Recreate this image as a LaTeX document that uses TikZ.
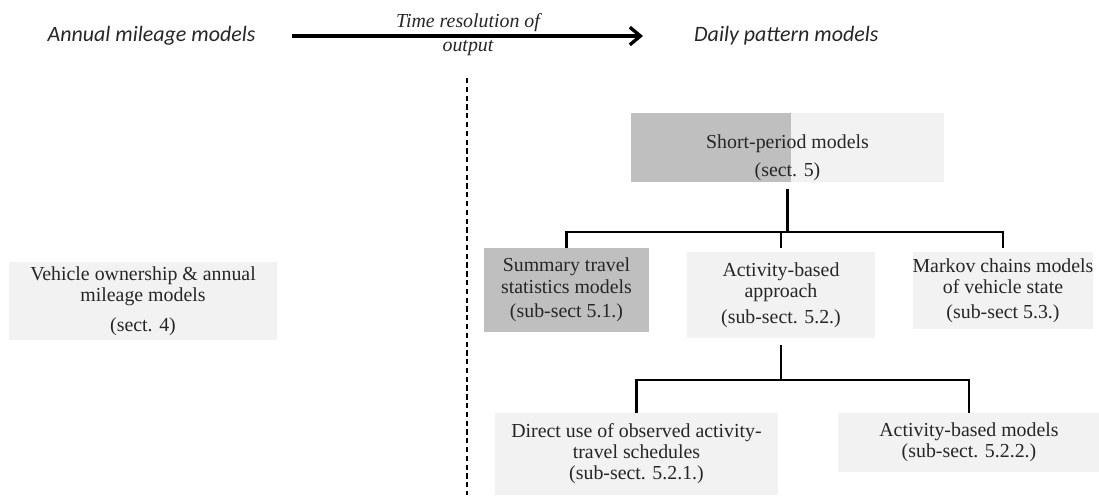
\documentclass[tikz,border=0pt]{standalone}
\usepackage{fontspec}
\setmainfont{Liberation Serif}
\newfontfamily\headfont{Carlito}
\usetikzlibrary{arrows.meta, positioning}
\definecolor{boxlight}{RGB}{242, 242, 242}
\definecolor{boxdark}{RGB}{191, 191, 191}
\definecolor{inkgray}{RGB}{38, 38, 38}

\begin{document}
\begin{tikzpicture}[x=0.02cm, y=-0.02cm,
  box/.style={fill=boxlight, inner sep=0pt, align=center, text=inkgray, font=\fontsize{11.3}{12}\selectfont},
  link/.style={line width=1.5pt, black},
  head/.style={text=inkgray, font=\headfont\itshape\fontsize{12.5}{14}\selectfont}]
  \useasboundingbox (0,0) rectangle (1099,495);

  % Heading and time axis
  \node[head] (ann) at (151.5,36) {Annual mileage models};
  \node[head, anchor=west] (daily) at (688,36) {Daily pattern models};
  \coordinate (axis start) at (292,36);
  \coordinate (axis end) at (643,36);
  \draw[line width=1.9pt, -{Straight Barb[length=6pt, width=10pt]}] (axis start) -- (axis end);
  \node[align=center, text=inkgray, font=\itshape\fontsize{11.3}{13.6}\selectfont] (res) at (468,35) {Time resolution of\\output};

  % Divider
  \coordinate (div top) at (467,78);
  \coordinate (div bottom) at (467,495);
  \draw[line width=1.3pt, dash pattern=on 3pt off 2pt] (div top) -- (div bottom);

  % Annual models
  \node[box, minimum width=5.36cm, minimum height=1.56cm] (veh) at (143,301) {
    Vehicle ownership \& annual\\mileage models\\[5pt](sect. 4)
  };

  % Short-period models
  \node[box, minimum width=6.26cm, minimum height=1.38cm,
    path picture={\fill[boxdark] (path picture bounding box.north west) rectangle ([xshift=0.07cm]path picture bounding box.south);}] (sp) at (787.5,147.5) {
    \rule{0pt}{19pt}Short-period models\\[4pt](sect. 5)
  };

  \node[box, fill=boxdark, minimum width=3.3cm, minimum height=1.68cm] (summ) at (566.5,290) {
    Summary travel\\statistics models\\[2pt](sub-sect 5.1.)
  };
  \node[box, minimum width=3.76cm, minimum height=1.72cm] (act) at (781,295) {
    Activity-based\\approach\\[3pt](sub-sect. 5.2.)
  };
  \node[box, minimum width=3.6cm, minimum height=1.54cm] (mark) at (1003,290.5) {
    Markov chains models\\of vehicle state\\[2pt](sub-sect 5.3.)
  };

  \node[box, minimum width=5.66cm, minimum height=1.64cm] (dir) at (636.5,454) {
    Direct use of observed activity-\\travel schedules\\(sub-sect. 5.2.1.)
  };
  \node[box, minimum width=5.24cm, minimum height=1.18cm] (abm) at (969,442.5) {
    Activity-based models\\(sub-sect. 5.2.2.)
  };

  % Tree
  \coordinate (top split) at (787.5,232);
  \coordinate (low split) at (781,380);
  \draw[link] (sp.south) ++(0,7) -- (top split);
  \draw[link] (summ.north) -- (summ.north |- top split) -- (mark.north |- top split) -- ([yshift=0.08cm]mark.north);
  \draw[link] ([yshift=0.08cm]act.north) -- (act.north |- top split);
  \draw[link] (act.south) ++(0,7) -- (low split);
  \draw[link] (dir.north) -- (dir.north |- low split) -- (abm.north |- low split) -- (abm.north);
\end{tikzpicture}
\end{document}
